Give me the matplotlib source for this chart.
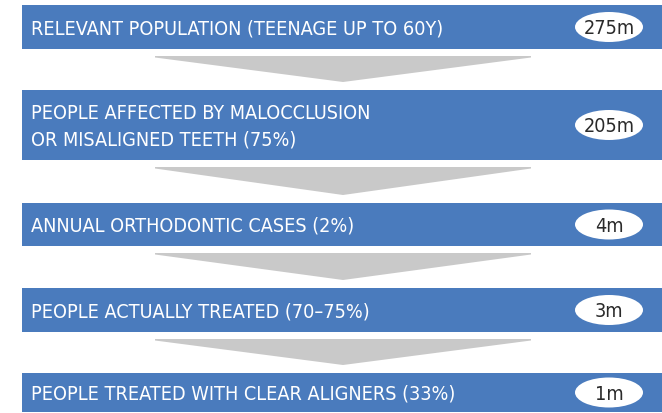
import matplotlib.pyplot as plt
from matplotlib.patches import Rectangle, Ellipse, Polygon

# funnel steps, top to bottom
labels = [
    'RELEVANT POPULATION (TEENAGE UP TO 60Y)',
    'PEOPLE AFFECTED BY MALOCCLUSION\nOR MISALIGNED TEETH (75%)',
    'ANNUAL ORTHODONTIC CASES (2%)',
    'PEOPLE ACTUALLY TREATED (70\u201375%)',
    'PEOPLE TREATED WITH CLEAR ALIGNERS (33%)',
]
values = ['275m', '205m', '4m', '3m', '1m']

# layout in pixels (figure is 662 x 414)
bar_tops = [6, 91, 204, 289, 374]
bar_bottoms = [50, 161, 247, 333, 413]
bar_left = 22
W, H = 662, 414

blue = '#4a7bbd'
grey = '#c9c9c9'
font = dict(family='DejaVu Sans', fontstretch='condensed')

fig = plt.figure(figsize=(W / 100, H / 100), dpi=100)
ax = fig.add_axes([0, 0, 1, 1])
ax.set_xlim(0, W)
ax.set_ylim(H, 0)
ax.axis('off')

for i, (lab, val) in enumerate(zip(labels, values)):
    top, bot = bar_tops[i], bar_bottoms[i]
    mid = (top + bot) / 2
    ax.add_patch(Rectangle((bar_left, top), W - bar_left + 5, bot - top,
                           facecolor=blue, edgecolor='none'))
    ax.text(31, mid + 1, lab, color='white', fontsize=14.2, va='center',
            ha='left', linespacing=1.5, **font)
    ax.add_patch(Ellipse((609, mid), 68, 30, facecolor='white', edgecolor='none'))
    ax.text(609, mid + 1, val, color='#2a2a2a', fontsize=14.2, va='center',
            ha='center', **font)

    # grey arrow to the next step
    if i < len(labels) - 1:
        a_top = bot + 7
        a_tip = bar_tops[i + 1] - 8
        ax.add_patch(Polygon([(155, a_top), (531, a_top), (531, a_top + 1.5),
                              (343, a_tip), (155, a_top + 1.5)],
                             closed=True, facecolor=grey, edgecolor='none'))

fig.savefig('out.png', dpi=100)
